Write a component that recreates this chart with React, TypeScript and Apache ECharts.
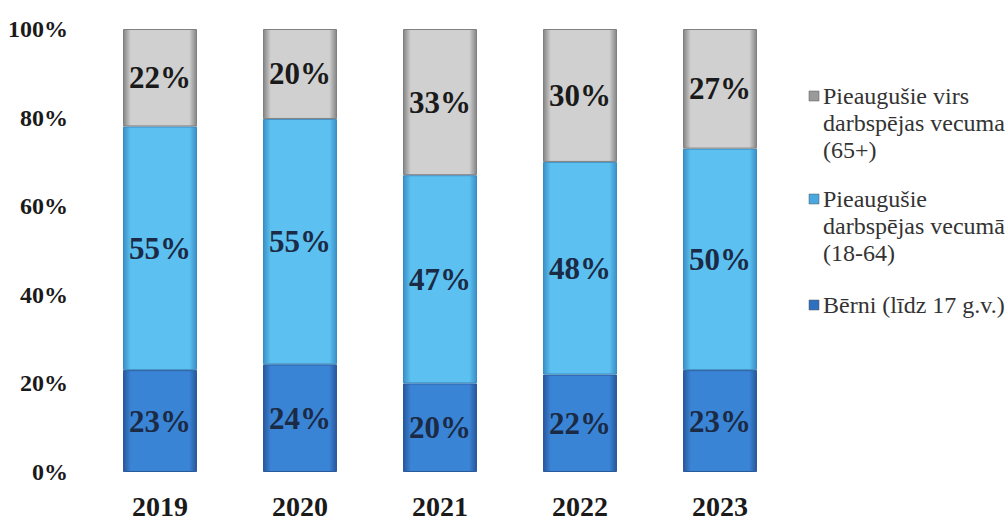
import React, { useEffect, useRef } from "react";
import * as echarts from "echarts";

const years = ["2019", "2020", "2021", "2022", "2023"];
const children = [23, 24.3, 20, 22, 23];
const working = [55, 55.4, 47, 48, 50];
const seniors = [22, 20.3, 33, 30, 27];
const yTicks = [0, 20, 40, 60, 80, 100];

const seriesNames = [
  "Bērni (līdz 17 g.v.)",
  "Pieaugušie darbspējas vecumā (18-64)",
  "Pieaugušie virs darbspējas vecuma (65+)",
];

const legendItems = [
  { lines: ["Pieaugušie virs", "darbspējas vecuma", "(65+)"], color: "#9a9a9a", y: 96 },
  { lines: ["Pieaugušie", "darbspējas vecumā", "(18-64)"], color: "#4aa8e0", y: 199 },
  { lines: ["Bērni (līdz 17 g.v.)"], color: "#2f6fc0", y: 305 },
];

const FONT = "'Liberation Serif', 'Times New Roman', serif";

function bevel(edge: string, mid: string) {
  return new echarts.graphic.LinearGradient(0, 0, 1, 0, [
    { offset: 0, color: edge },
    { offset: 0.1, color: mid },
    { offset: 0.9, color: mid },
    { offset: 1, color: edge },
  ]);
}

export default function App() {
  const ref = useRef<HTMLDivElement>(null);
  useEffect(() => {
    if (!ref.current) return;
    const chart = echarts.init(ref.current, undefined, { renderer: "svg" });
    const label = (color: string) => ({
      show: true,
      position: "inside",
      fontFamily: FONT,
      fontWeight: "bold",
      fontSize: 31,
      color,
      formatter: (p: any) => Math.round(p.value) + "%",
    });
    const graphics: any[] = [];
    legendItems.forEach((it) => {
      graphics.push({
        type: "rect",
        shape: { x: 809, y: it.y - 5, width: 10, height: 10 },
        style: { fill: it.color, stroke: "#555", lineWidth: 0.5 },
      });
      it.lines.forEach((ln, i) => {
        graphics.push({
          type: "text",
          x: 823,
          y: it.y + i * 27,
          style: {
            text: ln,
            font: `24px ${FONT}`,
            fill: "#333",
            verticalAlign: "middle",
            align: "left",
          },
        });
      });
    });
    chart.setOption({
      animation: false,
      backgroundColor: "#fff",
      grid: { left: 90, right: 218, top: 29, bottom: 48 },
      xAxis: {
        type: "category",
        data: years,
        axisLine: { show: false },
        axisTick: { show: false },
        axisLabel: {
          fontFamily: FONT,
          fontWeight: "bold",
          fontSize: 28,
          color: "#1a1a1a",
          margin: 20,
        },
      },
      yAxis: {
        type: "value",
        min: 0,
        max: 100,
        interval: 20,
        splitLine: { show: false },
        axisLine: { show: false },
        axisLabel: {
          fontFamily: FONT,
          fontWeight: "bold",
          fontSize: 24,
          color: "#1a1a1a",
          margin: 22,
          formatter: (v: number) => (yTicks.includes(v) ? v + "%" : ""),
        },
      },
      series: [
        {
          name: seriesNames[0],
          type: "bar",
          stack: "s",
          barWidth: 74,
          data: children,
          itemStyle: { color: bevel("#27579c", "#3a84d6"), borderColor: "#2a5a9c", borderWidth: 1 },
          label: label("#1b2a45"),
        },
        {
          name: seriesNames[1],
          type: "bar",
          stack: "s",
          barWidth: 74,
          data: working,
          itemStyle: { color: bevel("#3a90c8", "#5cc1f1"), borderColor: "#3a8cc4", borderWidth: 1 },
          label: label("#1b2a45"),
        },
        {
          name: seriesNames[2],
          type: "bar",
          stack: "s",
          barWidth: 74,
          data: seniors,
          itemStyle: { color: bevel("#858585", "#d0d0d0"), borderColor: "#808080", borderWidth: 1 },
          label: label("#1a1a1a"),
        },
      ],
      graphic: graphics,
    });
    return () => chart.dispose();
  }, []);
  return (
    <div
      ref={ref}
      style={{ position: "absolute", left: 0, top: 0, width: 1008, height: 520 }}
    />
  );
}
